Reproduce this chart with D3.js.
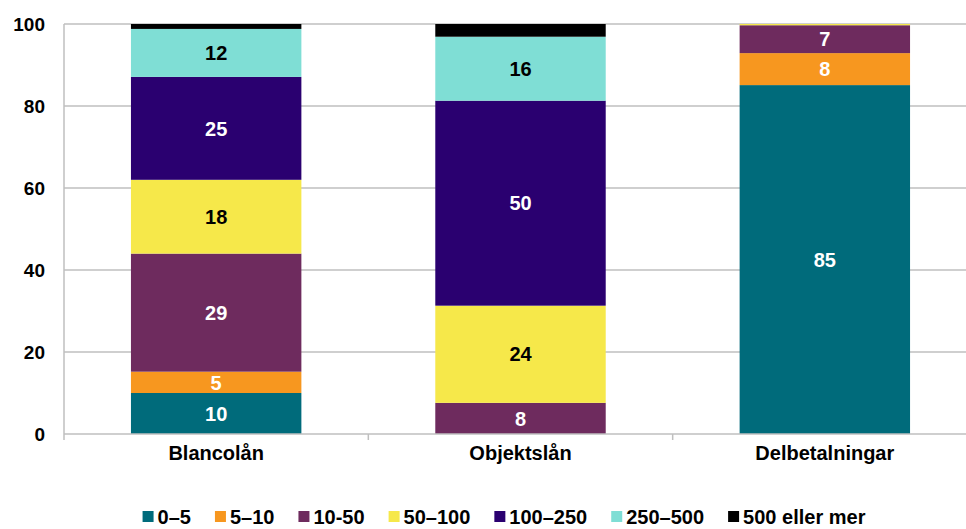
<!DOCTYPE html>
<html>
<head>
<meta charset="utf-8">
<script src="https://cdn.jsdelivr.net/npm/d3@7"></script>
<style>
  body { margin: 0; background: #fff; }
  svg { font-family: "Liberation Sans", Arial, sans-serif; font-weight: bold; }
</style>
</head>
<body>
<div id="chart"></div>
<script>
// Categories and series
const categories = ["Blancolån", "Objektslån", "Delbetalningar"];
const seriesNames = ["0–5", "5–10", "10-50", "50–100", "100–250", "250–500", "500 eller mer"];
const seriesColors = ["#006B7B", "#F7971F", "#6E2B5E", "#F6E84A", "#2A0070", "#7FDED5", "#000000"];
const labelColors = ["#fff", "#fff", "#fff", "#000", "#fff", "#000", "#fff"];

// Values per series, one per category
const s0_5 = [10, 0, 85.1];
const s5_10 = [5.2, 0, 7.8];
const s10_50 = [28.8, 7.6, 6.8];
const s50_100 = [18, 23.7, 0.3];
const s100_250 = [25.1, 50, 0];
const s250_500 = [11.7, 15.6, 0];
const s500 = [1.2, 3.1, 0];
const seriesValues = [s0_5, s5_10, s10_50, s50_100, s100_250, s250_500, s500];

const yTicks = [0, 20, 40, 60, 80, 100];

const W = 966, H = 529;
const margin = { top: 24, right: -11, bottom: 95, left: 64 };
const width = W - margin.left - margin.right;
const height = H - margin.top - margin.bottom;

const svg = d3.select("#chart").append("svg")
    .attr("width", W)
    .attr("height", H);

const g = svg.append("g")
    .attr("transform", `translate(${margin.left},${margin.top})`);

const x = d3.scaleBand()
    .domain(categories)
    .range([0, width])
    .paddingInner(0.44)
    .paddingOuter(0.22);

const y = d3.scaleLinear()
    .domain([0, 100])
    .range([height, 0]);

// Grid lines
g.append("g").selectAll("line")
    .data(yTicks.filter(d => d > 0))
    .enter().append("line")
    .attr("x1", 0)
    .attr("x2", W - margin.left)
    .attr("y1", d => y(d))
    .attr("y2", d => y(d))
    .attr("stroke", "#BFBFBF")
    .attr("stroke-width", 1.5);

// Stack data
const rows = categories.map((c, i) => {
    const r = { cat: c };
    seriesNames.forEach((s, j) => r[s] = seriesValues[j][i]);
    return r;
});
const stacked = d3.stack().keys(seriesNames)(rows);

const layers = g.selectAll(".layer")
    .data(stacked)
    .enter().append("g")
    .attr("class", "layer")
    .attr("fill", (d, i) => seriesColors[i]);

layers.selectAll("rect")
    .data(d => d)
    .enter().append("rect")
    .attr("x", d => x(d.data.cat))
    .attr("width", x.bandwidth())
    .attr("y", d => y(d[1]))
    .attr("height", d => y(d[0]) - y(d[1]));

// Value labels
stacked.forEach((layer, i) => {
    g.append("g").selectAll("text")
        .data(layer.filter(d => d[1] - d[0] >= 4.5))
        .enter().append("text")
        .attr("x", d => x(d.data.cat) + x.bandwidth() / 2)
        .attr("y", d => y((d[0] + d[1]) / 2))
        .attr("dy", "0.36em")
        .attr("text-anchor", "middle")
        .attr("fill", labelColors[i])
        .style("font-size", "20px")
        .text(d => Math.round(d[1] - d[0]));
});

// Axes lines
g.append("line")
    .attr("x1", 0).attr("x2", 0)
    .attr("y1", 0).attr("y2", height)
    .attr("stroke", "#BFBFBF").attr("stroke-width", 1.5);

g.append("line")
    .attr("x1", 0).attr("x2", W - margin.left)
    .attr("y1", height).attr("y2", height)
    .attr("stroke", "#BFBFBF").attr("stroke-width", 1.5);

// Category boundary ticks
g.append("g").selectAll("line")
    .data(d3.range(0, categories.length + 1))
    .enter().append("line")
    .attr("x1", i => i * width / categories.length)
    .attr("x2", i => i * width / categories.length)
    .attr("y1", height)
    .attr("y2", height + 6)
    .attr("stroke", "#BFBFBF").attr("stroke-width", 1.5);

// Y tick labels
g.append("g").selectAll("text")
    .data(yTicks)
    .enter().append("text")
    .attr("x", -19)
    .attr("y", d => y(d))
    .attr("dy", "0.36em")
    .attr("text-anchor", "end")
    .style("font-size", "19px")
    .text(d => d);

// Category labels
g.append("g").selectAll("text")
    .data(categories)
    .enter().append("text")
    .attr("x", d => x(d) + x.bandwidth() / 2)
    .attr("y", height + 26)
    .attr("text-anchor", "middle")
    .style("font-size", "20px")
    .text(d => d);

// Legend
const legend = svg.append("g");
const gap = 24;
let lx = 0;
seriesNames.forEach((s, i) => {
    const item = legend.append("g").attr("transform", `translate(${lx},0)`);
    item.append("rect")
        .attr("x", 0).attr("y", -13)
        .attr("width", 11).attr("height", 11)
        .attr("fill", seriesColors[i]);
    const t = item.append("text")
        .attr("x", 15)
        .attr("y", 0)
        .style("font-size", "20px")
        .text(s);
    lx += 15 + t.node().getComputedTextLength() + gap;
});
const legendWidth = lx - gap;
legend.attr("transform", `translate(${504 - legendWidth / 2}, ${H - 5})`);
</script>
</body>
</html>
